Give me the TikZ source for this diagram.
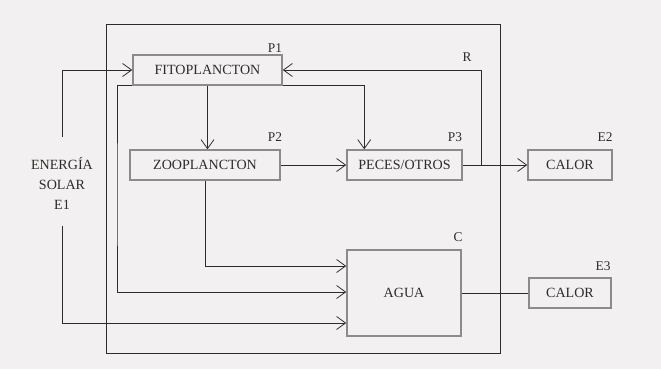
\documentclass[tikz,border=0pt]{standalone}
\usepackage{fontspec}
\setmainfont{Liberation Serif}
\usetikzlibrary{arrows.meta,calc}
\definecolor{bg}{HTML}{F2F0F0}
\definecolor{ink}{HTML}{2E2B2B}
\definecolor{boxline}{HTML}{8E8A8A}
\begin{document}
\begin{tikzpicture}[x=0.5mm,y=-0.5mm,
  txt/.style={font=\fontsize{20}{28.5}\selectfont,text=ink,inner sep=0pt},
  box/.style={txt,draw=boxline,line width=2.2pt,inner sep=0pt},
  frame/.style={draw=ink,line width=1.1pt,inner sep=0pt},
  lbl/.style={txt,font=\fontsize{19}{22}\selectfont},
  conn/.style={draw=ink,line width=1.1pt},
  arr/.style={conn,-{Straight Barb[length=4.5mm,width=6.5mm,line width=1.1pt]}}]
\fill[bg] (0,0) rectangle (661,369);
\useasboundingbox (0,0) rectangle (661,369);
% system frame
\node[frame,minimum width=197mm,minimum height=164.5mm] (sys) at (303,188.5) {};
% boxes
\node[box,minimum width=74.5mm,minimum height=15mm] (fito) at (207.5,70) {FITOPLANCTON};
\node[box,minimum width=75mm,minimum height=15mm] (zoo) at (205,165) {ZOOPLANCTON};
\node[box,minimum width=57.5mm,minimum height=15mm] (peces) at (404.5,165) {PECES/OTROS};
\node[box,minimum width=42mm,minimum height=15mm] (calor2) at (570,165) {CALOR};
\node[box,minimum width=57mm,minimum height=43mm] (agua) at (404,293) {AGUA};
\node[box,minimum width=41mm,minimum height=15mm] (calor3) at (570,293) {CALOR};
\node[txt,align=center] (solar) at (62,183) {ENERGÍA\\SOLAR\\E1};
% labels
\node[lbl] (p1) at (275,48) {P1};
\node[lbl] (p2) at (275,137) {P2};
\node[lbl] (p3) at (455,137) {P3};
\node[lbl] (e2) at (605,137) {E2};
\node[lbl] (r) at (467,57) {R};
\node[lbl] (c) at (458,237) {C};
\node[lbl] (e3) at (603,266) {E3};
% free ends
\coordinate (e1top) at (62,137);
\coordinate (e1bot) at (62,226);
\coordinate (rjoin) at (481,165);
% connectors
\draw[arr] (e1top) |- (fito.west);
\draw[arr] (rjoin) |- (fito.east);
\draw[arr] (fito.south) -- (fito.south |- zoo.north);
\draw[arr] ([yshift=1pt]fito.south east) -| ($(peces.north west)+(18,0)$);
\draw[arr] (fito.south west) -| (117,200) |- ($(agua.west)+(0,-1)$);
\draw[arr] (zoo.east) -- (peces.west);
\draw[arr] (zoo.south) |- ($(agua.west)+(0,-27)$);
\draw[arr] (peces.east) -- (calor2.west);
\draw[arr] (e1bot) |- ($(agua.west)+(0,30)$);
\draw[conn] (agua.east) -- (calor3.west);
\end{tikzpicture}
\end{document}
